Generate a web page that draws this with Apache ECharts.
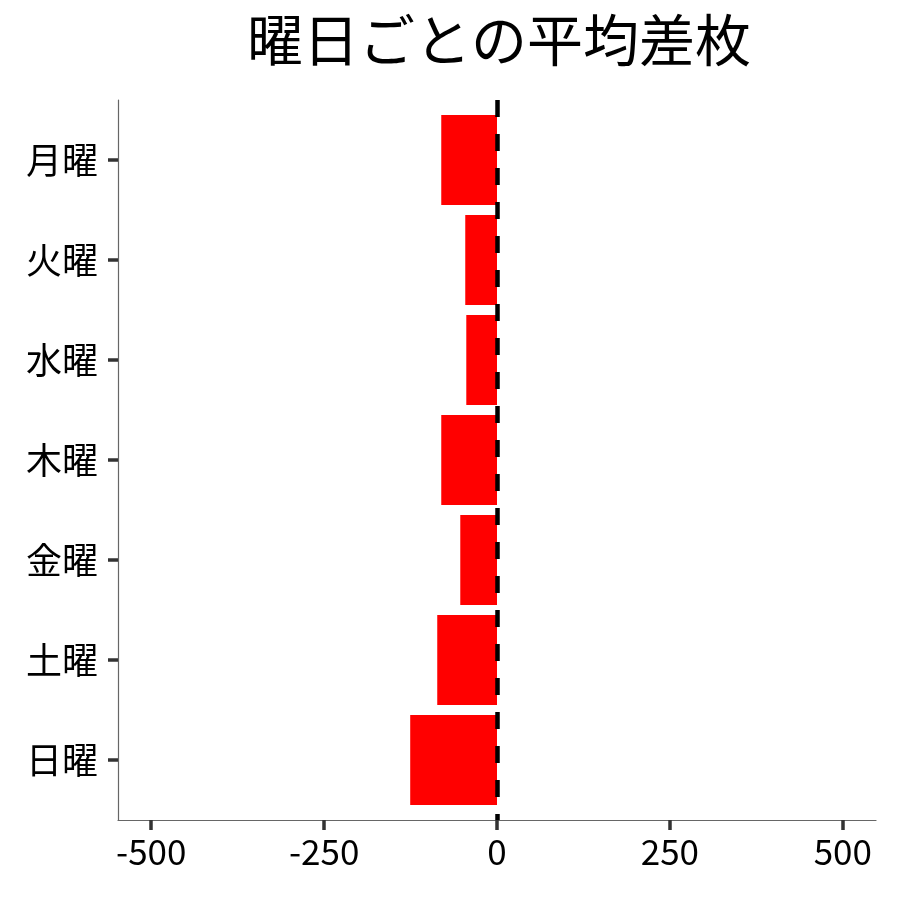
<!DOCTYPE html>
<html>
<head>
	<meta charset="UTF-8">
	<title>曜日ごとの平均差枚</title>
	<script src="https://cdn.jsdelivr.net/npm/echarts@6/dist/echarts.min.js"></script>
	<style>
		html, body { margin: 0; padding: 0; background: #fff; }
		#chart { width: 900px; height: 900px; }
	</style>
</head>
<body>
	<div id="chart"></div>
	<script>
		var days = ['月曜', '火曜', '水曜', '木曜', '金曜', '土曜', '日曜'];
		var avgDiff = [-80.6, -45.9, -44.4, -80.6, -53.1, -86.4, -125.5];
		var xTicks = [-500, -250, 0, 250, 500];
		var dayIndex = [0, 1, 2, 3, 4, 5, 6];

		var font = 'Noto Sans CJK JP';
		var barData = avgDiff.map(function (v, i) { return [v, i]; });

		var myChart = echarts.init(document.getElementById('chart'));
		var option = {
			backgroundColor: '#fff',
			animation: false,
			title: {
				text: '曜日ごとの平均差枚',
				left: 494,
				top: 7,
				textAlign: 'center',
				textStyle: { fontFamily: font, fontSize: 56, fontWeight: 'normal', color: '#000' }
			},
			grid: { left: 118, right: 24, top: 100, bottom: 80 },
			xAxis: {
				type: 'value',
				min: -548,
				max: 548,
				splitLine: { show: false },
				axisLine: { show: true, onZero: false, lineStyle: { color: '#666', width: 1.2 } },
				axisTick: { show: true, length: 10, customValues: xTicks, lineStyle: { color: '#333', width: 3.5 } },
				axisLabel: {
					customValues: xTicks,
					margin: 14,
					fontFamily: font, fontSize: 35, color: '#000'
				}
			},
			yAxis: {
				type: 'value',
				min: -0.6,
				max: 6.6,
				inverse: true,
				splitLine: { show: false },
				axisLine: { show: true, onZero: false, lineStyle: { color: '#666', width: 1.2 } },
				axisTick: { show: true, length: 10, customValues: dayIndex, lineStyle: { color: '#333', width: 3.5 } },
				axisLabel: {
					customValues: dayIndex,
					margin: 20,
					fontFamily: font, fontSize: 36, color: '#000',
					formatter: function (v) { return days[Math.round(v)]; }
				}
			},
			series: [{
				type: 'custom',
				data: barData,
				encode: { x: 0, y: 1 },
				renderItem: function (params, api) {
					var end = api.coord([api.value(0), api.value(1)]);
					var start = api.coord([0, api.value(1)]);
					var h = api.size([0, 0.9])[1];
					return {
						type: 'rect',
						shape: { x: end[0], y: end[1] - h / 2, width: start[0] - end[0], height: h },
						style: { fill: '#ff0000' }
					};
				},
				markLine: {
					silent: true,
					symbol: 'none',
					label: { show: false },
					lineStyle: { color: '#000', width: 4.5, type: [17, 17] },
					data: [{ xAxis: 0 }]
				}
			}]
		};
		myChart.setOption(option);
	</script>
</body>
</html>
